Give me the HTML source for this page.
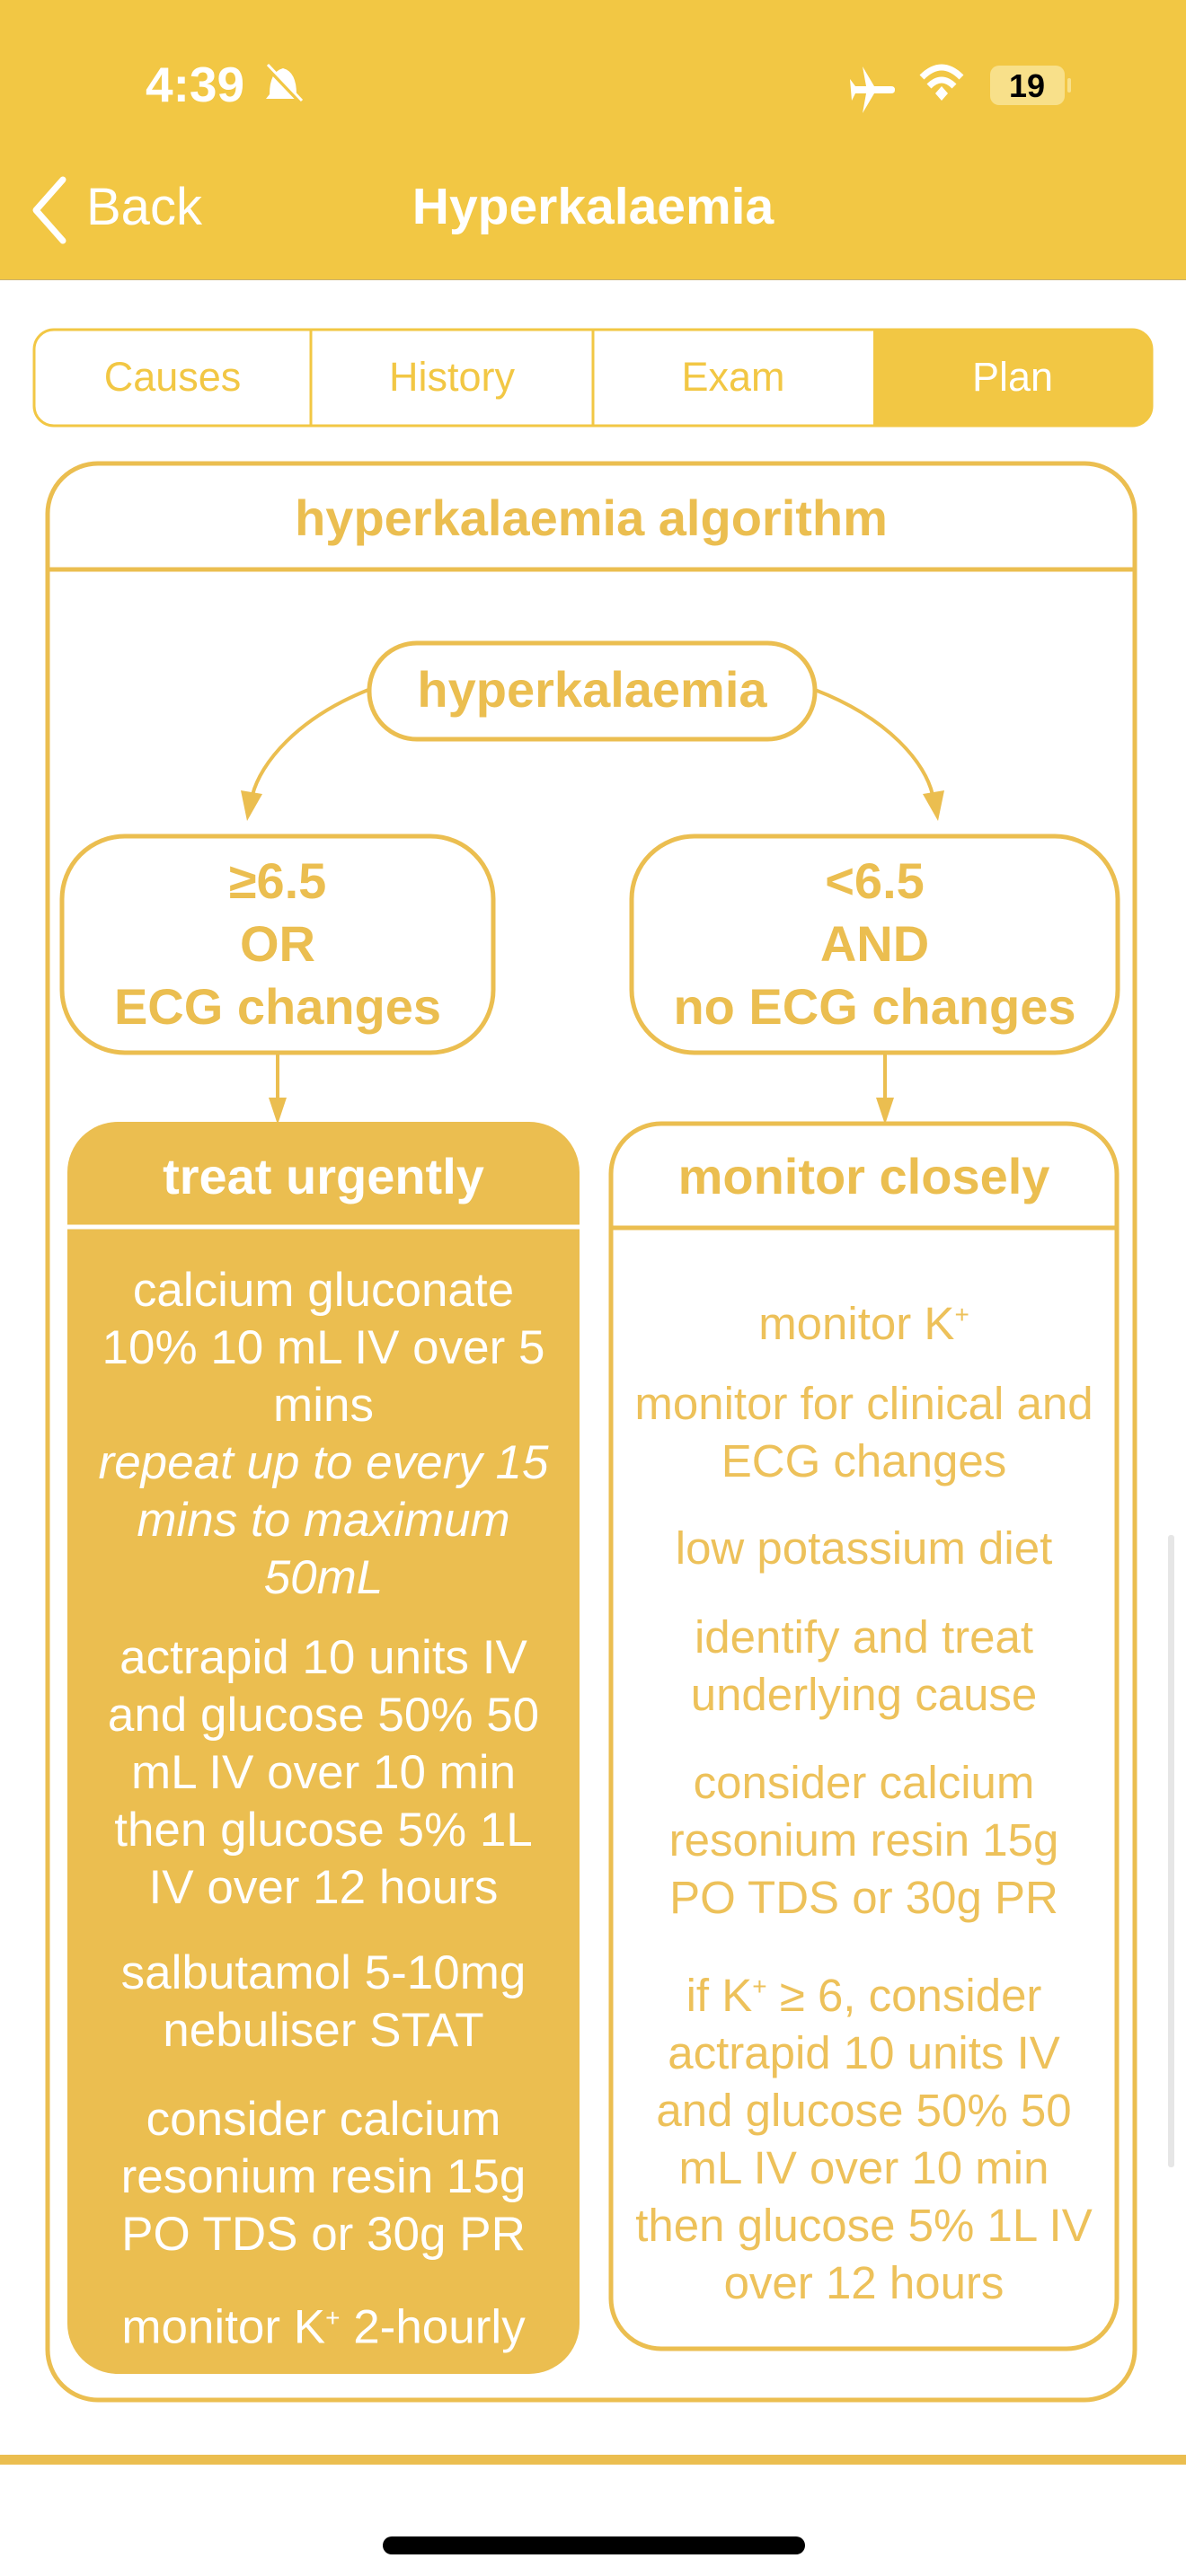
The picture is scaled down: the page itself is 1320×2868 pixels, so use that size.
<!DOCTYPE html>
<html><head><meta charset="utf-8"><style>
html,body{margin:0;padding:0;background:#fff}
body{width:1320px;height:2868px;position:relative;overflow:hidden;font-family:"Liberation Sans",sans-serif}
.t{position:absolute;text-align:center;white-space:nowrap}
.l{line-height:64px;font-size:53px}
.r{line-height:64px;font-size:51px}
</style></head><body>
<div style="position:absolute;left:0;top:0;width:1320px;height:311px;background:#F2C744;border-bottom:1px solid #c8b070"></div>
<div class="t" style="left:162px;top:62px;font-size:55px;font-weight:bold;color:#fff">4:39</div>
<svg style="position:absolute;left:0;top:0" width="1320" height="311">
 <g fill="#fff" stroke="#fff">
  <path d="M300 105 Q300 80 315 76 Q330 80 330 105 L334 110 L296 110 Z" stroke="none"/>
  <line x1="296" y1="74" x2="336" y2="116" stroke-width="4" stroke="#F2C744"/>
  <line x1="298" y1="72" x2="336" y2="112" stroke-width="3"/>
  <path d="M960 74 L973 96 L992 96 Q996 96 996 100 Q996 104 992 104 L973 104 L960 126 L964 104 L952 104 L948 112 L946 88 L952 96 L964 96 Z" stroke="none"/>
  <path d="M1026 86 Q1048 64 1070 86" fill="none" stroke-width="7"/>
  <path d="M1034 96 Q1048 82 1062 96" fill="none" stroke-width="7"/>
  <path d="M1041 104 L1048 96 L1055 104 L1048 112 Z" stroke="none"/>
 </g>
 <rect x="1102" y="73" width="83" height="44" rx="10" fill="#F8E08A"/>
 <rect x="1188" y="87" width="4" height="16" rx="2" fill="#F8E08A"/>
 <text x="1143" y="108" font-family="Liberation Sans" font-weight="bold" font-size="36" text-anchor="middle" fill="#000">19</text>
 <path d="M70 200 L40 234 L70 268" fill="none" stroke="#fff" stroke-width="7" stroke-linecap="round" stroke-linejoin="round"/>
</svg>
<div class="t" style="left:96px;top:197px;font-size:58px;color:#fff">Back</div>
<div class="t" style="left:360px;top:197px;width:600px;font-size:57px;font-weight:bold;color:#fff">Hyperkalaemia</div>

<svg style="position:absolute;left:0;top:0" width="1320" height="2868">
 <rect x="38" y="367" width="1244" height="107" rx="22" fill="#fff" stroke="#F2C744" stroke-width="3"/>
 <path d="M972 367 H1260 Q1282 367 1282 389 V452 Q1282 474 1260 474 H972 Z" fill="#F2C744"/>
 <line x1="346" y1="367" x2="346" y2="474" stroke="#F2C744" stroke-width="3"/>
 <line x1="660" y1="367" x2="660" y2="474" stroke="#F2C744" stroke-width="3"/>
 <g stroke="#EBBE50" fill="none">
  <rect x="53" y="516" width="1210" height="2156" rx="56" stroke-width="5"/>
  <line x1="53" y1="634" x2="1263" y2="634" stroke-width="5"/>
  <rect x="411" y="716" width="496" height="107" rx="53" stroke-width="5"/>
  <rect x="69" y="931" width="480" height="241" rx="70" stroke-width="5"/>
  <rect x="703" y="931" width="541" height="241" rx="70" stroke-width="5"/>
  <path d="M410 768 C330 800 290 850 281 885" stroke-width="4"/>
  <path d="M907 768 C990 800 1030 850 1038 885" stroke-width="4"/>
  <line x1="309" y1="1172" x2="309" y2="1225" stroke-width="4"/>
  <line x1="985" y1="1172" x2="985" y2="1225" stroke-width="4"/>
  <rect x="680" y="1251" width="563" height="1364" rx="56" stroke-width="5"/>
  <line x1="680" y1="1367" x2="1243" y2="1367" stroke-width="5"/>
 </g>
 <g fill="#EBBE50">
  <path d="M268 880 L292 884 L275 914 Z"/>
  <path d="M1027 884 L1051 880 L1044 914 Z"/>
  <path d="M299 1222 L319 1222 L309 1252 Z"/>
  <path d="M975 1222 L995 1222 L985 1252 Z"/>
  <rect x="75" y="1249" width="570" height="1394" rx="56"/>
  <rect x="0" y="2733" width="1320" height="11"/>
 </g>
 <line x1="75" y1="1366" x2="645" y2="1366" stroke="#fff" stroke-width="5"/>
 <rect x="1300" y="1709" width="7" height="704" rx="3" fill="#e6e6e6"/>
 <rect x="426" y="2824" width="470" height="20" rx="10" fill="#000"/>
</svg>

<div class="t" style="left:38px;top:394px;width:308px;font-size:45px;color:#F2C744">Causes</div>
<div class="t" style="left:346px;top:394px;width:314px;font-size:45px;color:#F2C744">History</div>
<div class="t" style="left:660px;top:394px;width:312px;font-size:45px;color:#F2C744">Exam</div>
<div class="t" style="left:972px;top:394px;width:310px;font-size:45px;color:#fff">Plan</div>

<div class="t" style="left:53px;top:544px;width:1210px;font-size:56px;font-weight:bold;color:#EBBE50">hyperkalaemia algorithm</div>
<div class="t" style="left:411px;top:735px;width:496px;font-size:56px;font-weight:bold;color:#EBBE50">hyperkalaemia</div>
<div class="t" style="left:69px;top:946px;width:480px;font-size:56px;line-height:70px;font-weight:bold;color:#EBBE50">≥6.5<br>OR<br>ECG changes</div>
<div class="t" style="left:703px;top:946px;width:541px;font-size:56px;line-height:70px;font-weight:bold;color:#EBBE50">&lt;6.5<br>AND<br>no ECG changes</div>

<div class="t" style="left:75px;top:1277px;width:570px;font-size:56px;font-weight:bold;color:#fff">treat urgently</div>
<div class="t" style="left:680px;top:1277px;width:563px;font-size:56px;font-weight:bold;color:#EBBE50">monitor closely</div>

<div style="color:#fff">
<div class="t l" style="left:75px;top:1405px;width:570px">calcium gluconate<br>10% 10 mL IV over 5<br>mins<br><i>repeat up to every 15<br>mins to maximum<br>50mL</i></div>
<div class="t l" style="left:75px;top:1814px;width:570px">actrapid 10 units IV<br>and glucose 50% 50<br>mL IV over 10 min<br>then glucose 5% 1L<br>IV over 12 hours</div>
<div class="t l" style="left:75px;top:2165px;width:570px">salbutamol 5-10mg<br>nebuliser STAT</div>
<div class="t l" style="left:75px;top:2328px;width:570px">consider calcium<br>resonium resin 15g<br>PO TDS or 30g PR</div>
<div class="t l" style="left:75px;top:2549px;width:570px">monitor K<sup style="font-size:28px">+</sup> 2-hourly</div>
</div>
<div style="color:#EDC15A">
<div class="t r" style="left:680px;top:1432px;width:563px">monitor K<sup style="font-size:28px">+</sup></div>
<div class="t r" style="left:680px;top:1531px;width:563px">monitor for clinical and<br>ECG changes</div>
<div class="t r" style="left:680px;top:1692px;width:563px">low potassium diet</div>
<div class="t r" style="left:680px;top:1791px;width:563px">identify and treat<br>underlying cause</div>
<div class="t r" style="left:680px;top:1953px;width:563px">consider calcium<br>resonium resin 15g<br>PO TDS or 30g PR</div>
<div class="t r" style="left:680px;top:2180px;width:563px">if K<sup style="font-size:28px">+</sup> ≥ 6, consider<br>actrapid 10 units IV<br>and glucose 50% 50<br>mL IV over 10 min<br>then glucose 5% 1L IV<br>over 12 hours</div>
</div>
</body></html>
